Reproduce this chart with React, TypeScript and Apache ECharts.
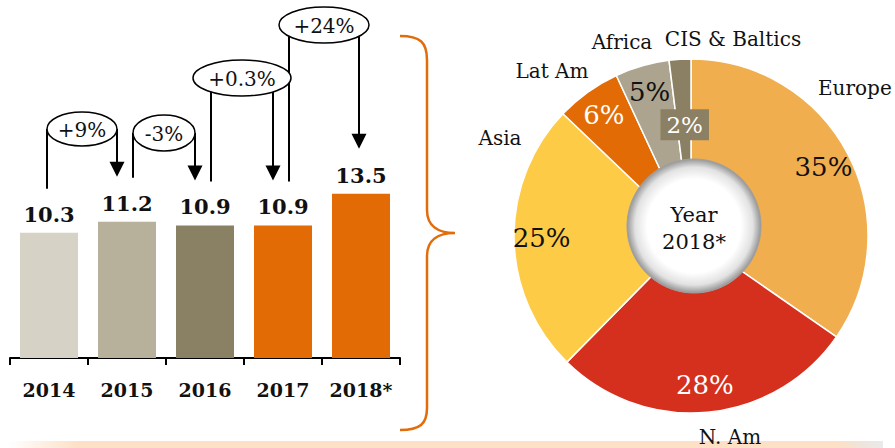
import React, { useEffect, useRef } from 'react';
import * as echarts from 'echarts';

// ---- data ----
const years = ['2014', '2015', '2016', '2017', '2018*'];
const sales = [10.3, 11.2, 10.9, 10.9, 13.5];
const changes = ['+9%', '-3%', '+0.3%', '+24%'];
const regions = ['Europe', 'N. Am', 'Asia', 'Lat Am', 'Africa', 'CIS & Baltics'];
const shares = [35, 28, 25, 6, 5, 2];
const centerLines = ['Year', '2018*'];

// ---- styles ----
const barColors = ['#D6D3C6', '#B7B09A', '#8A8063', '#E36B05', '#E36B05'];
const regionColors = ['#F0AE4E', '#D52F1E', '#FECB47', '#E36B05', '#ADA48F', '#8B8063'];
const shareLabelColors = ['#111', '#fff', '#111', '#fff', '#111', '#fff'];
const SERIF = '"DejaVu Serif", Georgia, serif';

const PIE_CX = 691;
const PIE_CY = 236;
const PIE_R = 177;

// label placement for region names (relative to pie centre)
const nameLayout = [
  { dx: 127, dy: -148, align: 'left' },
  { dx: 39, dy: 201, align: 'center' },
  { dx: -191, dy: -98, align: 'center' },
  { dx: -139, dy: -165, align: 'center' },
  { dx: -69, dy: -194, align: 'center' },
  { dx: 42, dy: -197, align: 'center' },
];

// bubble layout for the change annotations
const bubbleLayout = [
  { cy: 129, rx: 0, ry: 17, leftDx: -2, rightDx: -10 },
  { cy: 133, rx: 0, ry: 18, leftDx: 6, rightDx: -10 },
  { cy: 78, rx: 49, ry: 18, leftDx: 6, rightDx: -10 },
  { cy: 25, rx: 45, ry: 18, leftDx: 6, rightDx: -2 },
];

export default function App() {
  const ref = useRef<HTMLDivElement>(null);

  useEffect(() => {
    if (!ref.current) return;
    const chart = echarts.init(ref.current, null, { renderer: 'svg' });

    const option: any = {
      animation: false,
      grid: { left: 10, top: 54, width: 390, height: 304 },
      xAxis: {
        type: 'category',
        data: years,
        axisLine: { show: true, lineStyle: { color: '#000', width: 2 } },
        axisTick: { show: true, length: 7, lineStyle: { color: '#000', width: 2 } },
        axisLabel: {
          interval: 0,
          hideOverlap: false,
          margin: 22,
          color: '#111',
          fontFamily: SERIF,
          fontWeight: 'bold',
          fontSize: 19,
        },
      },
      yAxis: { type: 'value', min: 0, max: 25, show: false, splitLine: { show: false } },
      series: [
        {
          type: 'bar',
          barWidth: 58,
          silent: true,
          data: sales.map((v, i) => ({ value: v, itemStyle: { color: barColors[i] } })),
          label: {
            show: true,
            position: 'top',
            distance: 8,
            color: '#111',
            fontFamily: SERIF,
            fontWeight: 'bold',
            fontSize: 21,
          },
        },
        {
          type: 'pie',
          center: [PIE_CX, PIE_CY],
          radius: [0, PIE_R],
          startAngle: 90,
          clockwise: true,
          silent: true,
          label: { show: false },
          labelLine: { show: false },
          itemStyle: { borderColor: '#fff', borderWidth: 1.5 },
          data: shares.map((v, i) => ({
            value: v,
            name: regions[i],
            itemStyle: { color: regionColors[i] },
          })),
        },
        {
          type: 'pie',
          center: [PIE_CX, PIE_CY],
          radius: [116, PIE_R],
          startAngle: 90,
          clockwise: true,
          silent: true,
          z: 5,
          labelLine: { show: false },
          itemStyle: { color: 'rgba(0,0,0,0)', borderWidth: 0 },
          label: {
            show: true,
            position: 'inside',
            formatter: '{c}%',
            fontFamily: SERIF,
            fontSize: 26,
          },
          data: shares.map((v, i) => {
            const item: any = {
              value: v,
              name: regions[i],
              label: { color: shareLabelColors[i] },
            };
            if (i === shares.length - 1) {
              item.label = {
                color: '#fff',
                fontSize: 23,
                backgroundColor: regionColors[i],
                padding: [5, 6, 3, 6],
                offset: [3, 38],
              };
            }
            return item;
          }),
        },
      ],
    };
    chart.setOption(option);

    // ---- annotation graphics computed from the bar scale ----
    const pts = sales.map((v, i) => chart.convertToPixel({ xAxisIndex: 0, yAxisIndex: 0 }, [i, v]) as number[]);
    const graphics: any[] = [];
    changes.forEach((txt, k) => {
      const L = bubbleLayout[k];
      const xl = pts[k][0] + L.leftDx;
      const xr = pts[k + 1][0] + L.rightDx;
      const cx = (xl + xr) / 2;
      const rx = L.rx > 0 ? L.rx : (xr - xl) / 2;
      const ry = L.ry;
      const attach = (x: number) => {
        const t = (x - cx) / rx;
        return L.rx > 0 ? L.cy + ry * Math.sqrt(Math.max(0, 1 - t * t)) : L.cy;
      };
      const startY = pts[k][1] - 44;
      const tipY = pts[k + 1][1] - 45;
      graphics.push({
        type: 'line',
        z: 20,
        shape: { x1: xl, y1: startY, x2: xl, y2: attach(xl) },
        style: { stroke: '#000', lineWidth: 2 },
      });
      graphics.push({
        type: 'line',
        z: 20,
        shape: { x1: xr, y1: attach(xr), x2: xr, y2: tipY - 14 },
        style: { stroke: '#000', lineWidth: 2 },
      });
      graphics.push({
        type: 'polygon',
        z: 20,
        shape: { points: [[xr - 7.5, tipY - 15], [xr + 7.5, tipY - 15], [xr, tipY]] },
        style: { fill: '#000' },
      });
      graphics.push({
        type: 'ellipse',
        z: 21,
        shape: { cx, cy: L.cy, rx, ry },
        style: { fill: '#fff', stroke: '#000', lineWidth: 1.5 },
      });
      graphics.push({
        type: 'text',
        z: 22,
        x: cx,
        y: L.cy + 1,
        style: {
          text: txt,
          fill: '#111',
          font: `20px ${SERIF}`,
          align: 'center',
          verticalAlign: 'middle',
          textAlign: 'center',
          textVerticalAlign: 'middle',
        },
      });
    });

    // brace
    echarts.graphic.registerShape(
      'brace',
      echarts.graphic.extendPath(
        'M400 36 C420 36 427 42 427 60 L427 210 C427 226 438 233 455 233 C438 233 427 240 427 256 L427 408 C427 424 420 430 400 430',
        {}
      ) as any
    );
    graphics.push({
      type: 'brace',
      z: 20,
      x: 0,
      y: 0,
      scaleX: 1,
      scaleY: 1,
      style: { fill: 'none', stroke: '#E36C0A', lineWidth: 2.5 },
    });

    // bottom band
    graphics.push({
      type: 'rect',
      z: 1,
      shape: { x: 8, y: 441, width: 875, height: 7 },
      style: {
        fill: new echarts.graphic.LinearGradient(0, 0, 1, 0, [
          { offset: 0, color: 'rgba(253,224,198,0)' },
          { offset: 0.08, color: '#FDE0C6' },
          { offset: 0.95, color: '#FDE0C6' },
          { offset: 1, color: 'rgba(220,220,220,0.6)' },
        ]),
      },
    });

    // centre disc
    graphics.push({
      type: 'circle',
      z: 30,
      shape: { cx: 694, cy: 226, r: 67 },
      style: {
        fill: new echarts.graphic.RadialGradient(0.5, 0.5, 0.5, [
          { offset: 0, color: '#ffffff' },
          { offset: 0.7, color: '#ffffff' },
          { offset: 0.88, color: '#e2e2e2' },
          { offset: 1, color: '#969696' },
        ]),
        stroke: '#a0a0a0',
        lineWidth: 1,
      },
    });
    centerLines.forEach((t, i) => {
      graphics.push({
        type: 'text',
        z: 31,
        x: 694,
        y: 215 + i * 27,
        style: {
          text: t,
          fill: '#111',
          font: `21px ${SERIF}`,
          align: 'center',
          verticalAlign: 'middle',
          textAlign: 'center',
          textVerticalAlign: 'middle',
        },
      });
    });

    // region names
    regions.forEach((name, i) => {
      const L = nameLayout[i];
      graphics.push({
        type: 'text',
        z: 31,
        x: PIE_CX + L.dx,
        y: PIE_CY + L.dy,
        style: {
          text: name,
          fill: '#111',
          font: `20px ${SERIF}`,
          align: L.align,
          verticalAlign: 'middle',
          textAlign: L.align,
          textVerticalAlign: 'middle',
        },
      });
    });

    chart.setOption({ graphic: { elements: graphics } });

    return () => chart.dispose();
  }, []);

  return (
    <div
      ref={ref}
      style={{ position: 'fixed', left: 0, top: 0, width: 895, height: 448, background: '#fff' }}
    />
  );
}
